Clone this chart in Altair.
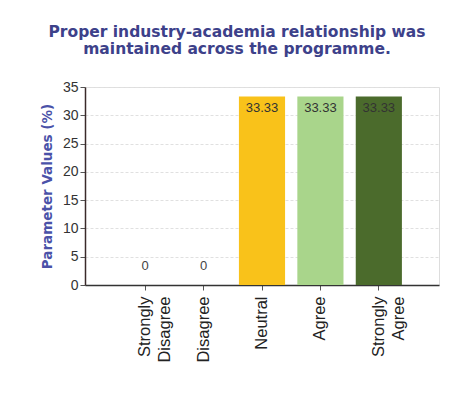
import altair as alt
import pandas as pd

categories = ["Strongly Disagree", "Disagree", "Neutral", "Agree", "Strongly Agree"]
values = [0, 0, 33.33, 33.33, 33.33]
labels = ["0", "0", "33.33", "33.33", "33.33"]
colors = ["#F9C21A", "#F9C21A", "#F9C21A", "#A9D58B", "#4B6B2C"]
y_ticks = [0, 5, 10, 15, 20, 25, 30, 35]

df = pd.DataFrame({"cat": categories, "val": values, "lab": labels, "col": colors})

x = alt.X("cat:N", sort=categories, title=None,
          scale=alt.Scale(paddingInner=0.21, paddingOuter=0.635),
          axis=alt.Axis(labelAngle=-90, labelAlign="right", labelBaseline="middle",
                        labelExpr="split(datum.label, ' ')", labelFont="Liberation Sans",
                        labelFontSize=16.5, labelColor="#222", labelLineHeight=20,
                        domainColor="#333", domainWidth=1.5, tickColor="#555", tickSize=5,
                        labelPadding=6, grid=False))
y = alt.Y("val:Q", title="Parameter Values (%)",
          scale=alt.Scale(domain=[0, 35], nice=False, zero=True),
          axis=alt.Axis(values=y_ticks, labelOverlap=False, tickCount=8,
                        labelFont="Liberation Sans",
                        labelFontSize=14, labelColor="#333", domainColor="#3a2a2a",
                        domainWidth=1.5, tickColor="#555", tickSize=5, gridColor="#e0e0e0",
                        gridDash=[3, 2], titleFont="DejaVu Sans", titleFontSize=13.5,
                        titleFontWeight="bold", titleColor="#4A52A8", titlePadding=8))

base = alt.Chart(df)
bars = base.mark_bar().encode(x=x, y=y, color=alt.Color("col:N", scale=None))
lab_top = base.transform_filter("datum.val > 0").mark_text(
    baseline="top", dy=6, font="Liberation Sans", fontSize=13, color="#333"
).encode(x=x, y=y, text="lab:N")
lab_zero = base.transform_filter("datum.val == 0").mark_text(
    baseline="bottom", dy=-12, font="Liberation Sans", fontSize=13, color="#444"
).encode(x=x, y=y, text="lab:N")

chart = alt.layer(bars, lab_top, lab_zero).properties(
    width=354, height=198,
    autosize=alt.AutoSizeParams(type="none"),
    padding={"left": 77, "top": 79, "right": 11, "bottom": 102},
    title=alt.TitleParams(
        ["Proper industry-academia relationship was", "maintained across the programme."],
        font="DejaVu Sans", fontSize=15.5, fontWeight="bold", color="#3D418A",
        anchor="middle", dx=-25, offset=23, lineHeight=17),
).configure_view(stroke=None).configure(background="white")

chart.save("out.html", embed_options={"renderer": "svg", "actions": False})
